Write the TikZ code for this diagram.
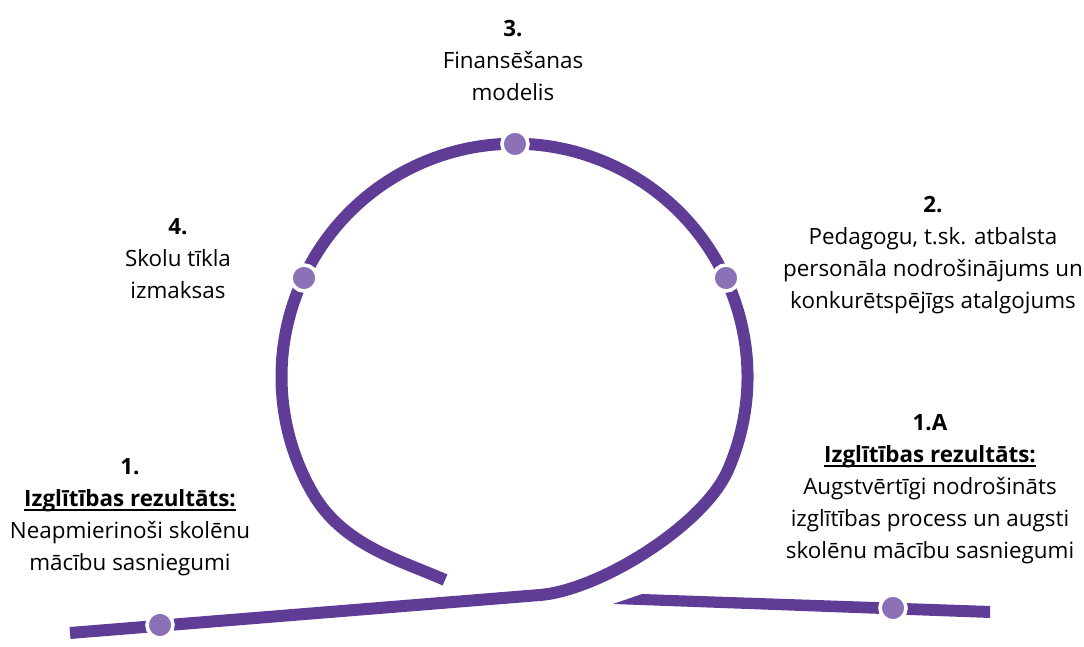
\documentclass[tikz,border=0pt]{standalone}
\usepackage{fontspec}
\setmainfont{Open Sans}
\definecolor{track}{HTML}{5F3C96}
\definecolor{stopfill}{HTML}{8B72B6}
\newlength\ulwd
\newcommand{\ulbold}[1]{\settowidth{\ulwd}{\textbf{#1}}\textbf{#1}\hspace{-\ulwd}\rule[-2.2pt]{\ulwd}{1pt}}

\begin{document}
\begin{tikzpicture}[x=0.5pt, y=0.5pt,
    rail/.style={draw=track, line width=6pt},
    stop/.style={circle, fill=stopfill, draw=white, line width=1.8pt,
                 minimum size=13pt, inner sep=0pt},
    lbl/.style={align=center, inner sep=0pt, font=\fontsize{11.2}{16}\selectfont}
]
    \useasboundingbox (0,0) rectangle (1084,647);

    % the loop
    \draw[rail] (70,14) -- (540,52) .. controls (600,57) and (704,122) .. (728,177)
        arc[start angle=-23.6, end angle=210, radius=233]
        .. controls (343,101.5) and (400,87) .. (445,67);
    \fill[track] (613,43) -- (642,53) -- (990,41) -- (990,29) -- cycle;

    \node[stop] (s1) at (160,22) {};
    \node[stop] (s1a) at (893,39) {};
    \node[stop] (s2) at (726,369) {};
    \node[stop] (s3) at (515,503) {};
    \node[stop] (s4) at (304,369) {};

    \node[lbl] (t3) at (513,586) {\textbf{3.}\\Finansēšanas\\modelis};
    \node[lbl] (t4) at (178,388) {\textbf{4.}\\Skolu tīkla\\izmaksas};
    \node[lbl] (t2) at (933,392) {\textbf{2.}\\Pedagogu, t.sk. atbalsta\\personāla nodrošinājums un\\konkurētspējīgs atalgojums};
    \node[lbl] (t1a) at (930,158) {\textbf{1.A}\\\ulbold{Izglītības rezultāts:}\\Augstvērtīgi nodrošināts\\izglītības process un augsti\\skolēnu mācību sasniegumi};
    \node[lbl] (t1) at (130,130) {\textbf{1.}\\\ulbold{Izglītības rezultāts:}\\Neapmierinoši skolēnu\\mācību sasniegumi};
\end{tikzpicture}
\end{document}
